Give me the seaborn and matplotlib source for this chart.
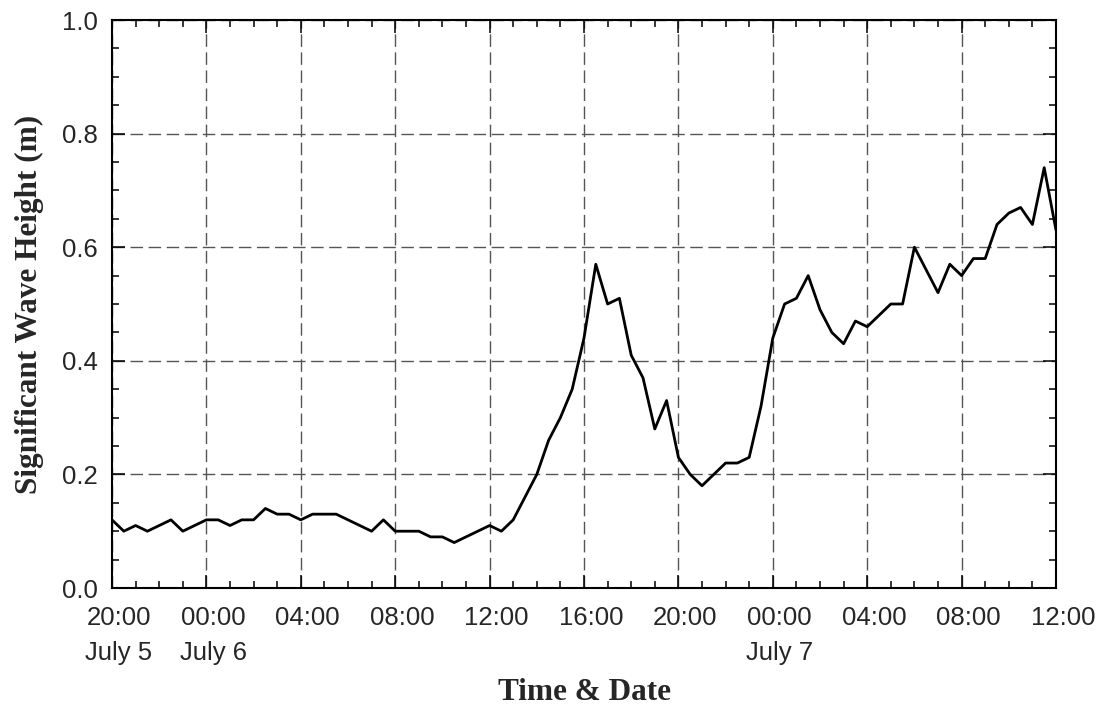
import numpy as np
import pandas as pd
import matplotlib
matplotlib.use("Agg")
import matplotlib.pyplot as plt
import matplotlib.transforms as mtransforms
from matplotlib.ticker import MultipleLocator
import seaborn as sns

# hours since 20:00 July 5
hours = [0, 0.5, 1.0, 1.5, 2.5, 3.0, 4.0, 4.5, 5.0, 5.5, 6.0, 6.5, 7.0, 7.5, 8.0, 8.5,
         9.5, 11.0, 11.5, 12.0, 13.0, 13.5, 14.0, 14.5, 16.0, 16.5, 17.0, 18.0, 18.5,
         19.0, 19.5, 20.0, 20.5, 21.0, 21.5, 22.0, 22.5, 23.0, 23.5, 24.0, 24.5, 25.0,
         25.5, 26.0, 26.5, 27.0, 27.5, 28.0, 28.5, 29.0, 29.5, 30.0, 30.5, 31.0, 31.5,
         32.0, 33.0, 33.5, 34.0, 35.0, 35.5, 36.0, 36.5, 37.0, 37.5, 38.0, 38.5, 39.0,
         39.5, 40.0]
wave_height = [0.12, 0.10, 0.11, 0.10, 0.12, 0.10, 0.12, 0.12, 0.11, 0.12, 0.12, 0.14,
               0.13, 0.13, 0.12, 0.13, 0.13, 0.10, 0.12, 0.10, 0.10, 0.09, 0.09, 0.08,
               0.11, 0.10, 0.12, 0.20, 0.26, 0.30, 0.35, 0.44, 0.57, 0.50, 0.51, 0.41,
               0.37, 0.28, 0.33, 0.23, 0.20, 0.18, 0.20, 0.22, 0.22, 0.23, 0.32, 0.44,
               0.50, 0.51, 0.55, 0.49, 0.45, 0.43, 0.47, 0.46, 0.50, 0.50, 0.60, 0.52,
               0.57, 0.55, 0.58, 0.58, 0.64, 0.66, 0.67, 0.64, 0.74, 0.63]

tick_hours = [0, 4, 8, 12, 16, 20, 24, 28, 32, 36, 40]
tick_labels = ["20:00\nJuly 5", "00:00\nJuly 6", "04:00\n", "08:00\n", "12:00\n",
               "16:00\n", "20:00\n", "00:00\nJuly 7", "04:00\n", "08:00\n", "12:00\n"]
y_ticks = [0.0, 0.2, 0.4, 0.6, 0.8, 1.0]

df = pd.DataFrame({"hours": hours, "height": wave_height})

sns.set_theme(style="white")
plt.rcParams['font.family'] = ['Liberation Sans', 'DejaVu Sans']

fig = plt.figure(figsize=(11.08, 7.09), dpi=100)
ax = fig.add_axes([112/1108, 1 - 588/709, (1056 - 112)/1108, (588 - 20)/709])

sns.lineplot(data=df, x="hours", y="height", ax=ax, color="black", linewidth=2.0,
             zorder=3)

ax.set_xlim(0, 40)
ax.set_ylim(0, 1.0)
ax.set_xticks(tick_hours)
ax.set_xticklabels(tick_labels, fontsize=18.5, linespacing=1.6)
ax.set_yticks(y_ticks)
ax.set_yticklabels([f"{v:.1f}" for v in y_ticks], fontsize=18.5)
ax.xaxis.set_minor_locator(MultipleLocator(1))
ax.yaxis.set_minor_locator(MultipleLocator(0.05))
ax.tick_params(which="both", direction="in", top=True, right=True, bottom=True,
               left=True, color="black", width=1.1)
ax.tick_params(which="major", length=9.5)
ax.tick_params(which="minor", length=5)
ax.tick_params(axis="x", which="major", pad=13)
ax.tick_params(axis="y", which="major", pad=10)

# the reference's time labels sit a few pixels right of their ticks
shift = mtransforms.ScaledTranslation(7/100, 0, fig.dpi_scale_trans)
for lab in ax.get_xticklabels():
    lab.set_transform(lab.get_transform() + shift)

ax.grid(True, which="major", linestyle=(0, (9, 4)), color="#555555", linewidth=1.0)
for s in ax.spines.values():
    s.set_color("black")
    s.set_linewidth(1.5)
    s.set_visible(True)

ax.set_xlabel("Time & Date", fontsize=22.5, fontweight="bold", family="Liberation Serif",
              labelpad=9)
ax.set_ylabel("Significant Wave Height (m)", fontsize=22.5, fontweight="bold",
              family="Liberation Serif", labelpad=13)

fig.savefig("out.png", dpi=100)
